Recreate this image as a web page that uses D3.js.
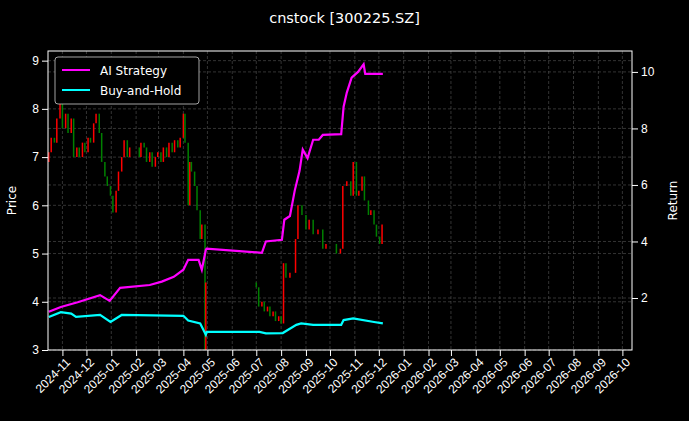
<!DOCTYPE html>
<html><head><meta charset="utf-8">
<script src="https://cdn.jsdelivr.net/npm/d3@7"></script>
<style>body{margin:0;background:#000}svg{font-family:"DejaVu Sans",sans-serif}</style>
</head><body><svg id="chart"></svg>
<script>
// price closes (candles: open = previous close)
var priceDates = ["2024-10-15","2024-10-18","2024-10-22","2024-10-25","2024-10-29","2024-11-01","2024-11-05","2024-11-08","2024-11-12","2024-11-15","2024-11-19","2024-11-22","2024-11-26","2024-11-29","2024-12-03","2024-12-06","2024-12-10","2024-12-13","2024-12-17","2024-12-20","2024-12-24","2024-12-27","2024-12-31","2025-01-03","2025-01-07","2025-01-10","2025-01-14","2025-01-17","2025-01-21","2025-01-24","2025-02-05","2025-02-07","2025-02-11","2025-02-14","2025-02-18","2025-02-21","2025-02-25","2025-02-28","2025-03-04","2025-03-07","2025-03-11","2025-03-14","2025-03-18","2025-03-21","2025-03-25","2025-03-28","2025-04-01","2025-04-03","2025-04-07","2025-04-09","2025-04-11","2025-04-15","2025-04-18","2025-04-22","2025-04-24","2025-04-28","2025-04-29","2025-07-01","2025-07-04","2025-07-08","2025-07-11","2025-07-15","2025-07-18","2025-07-22","2025-07-25","2025-07-29","2025-08-01","2025-08-04","2025-08-07","2025-08-12","2025-08-19","2025-08-22","2025-08-27","2025-09-01","2025-09-05","2025-09-10","2025-09-16","2025-09-22","2025-09-26","2025-10-09","2025-10-14","2025-10-17","2025-10-22","2025-10-27","2025-10-30","2025-11-03","2025-11-06","2025-11-10","2025-11-13","2025-11-18","2025-11-21","2025-11-25","2025-11-28","2025-12-02","2025-12-05"];
var priceClose = [7.1,7.4,7.3,7.8,8.1,7.6,7.9,7.5,7.8,7.0,7.2,7.0,7.3,7.1,7.4,7.3,7.7,7.9,7.5,6.9,6.6,6.4,6.2,5.85,6.3,6.7,7.0,7.35,7.0,7.2,7.0,7.3,7.2,6.9,7.1,6.8,7.0,7.1,6.9,7.2,7.0,7.3,7.1,7.35,7.2,7.4,7.9,7.3,6.0,6.9,6.7,6.4,5.9,5.3,5.6,2.9,4.4,4.3,3.9,4.0,3.8,3.9,3.7,3.8,3.6,3.7,3.55,4.8,4.5,4.6,5.3,6.0,5.8,5.5,5.7,5.4,5.5,5.1,5.2,5.0,5.1,6.4,6.5,6.2,6.9,6.2,6.3,6.6,6.1,5.8,5.9,5.6,5.35,5.2,5.6];

var aiDates = ["2024-10-15","2024-10-30","2024-11-20","2024-12-18","2024-12-30","2025-01-12","2025-02-18","2025-03-05","2025-03-20","2025-04-01","2025-04-07","2025-04-20","2025-04-24","2025-04-29","2025-04-30","2025-07-08","2025-07-13","2025-08-02","2025-08-05","2025-08-12","2025-08-18","2025-08-24","2025-08-28","2025-09-03","2025-09-10","2025-09-17","2025-09-22","2025-10-15","2025-10-18","2025-10-22","2025-10-28","2025-11-05","2025-11-12","2025-11-14","2025-12-06"];
var aiReturn = [1.51,1.68,1.85,2.1,1.9,2.36,2.46,2.58,2.75,3.0,3.35,3.35,3.0,3.7,3.75,3.6,4.0,4.06,4.77,4.9,5.8,6.5,7.25,6.95,7.6,7.6,7.77,7.8,8.77,9.27,9.8,10.0,10.27,9.93,9.93];

var bhDates = ["2024-10-15","2024-10-30","2024-11-12","2024-11-18","2024-12-18","2024-12-31","2025-01-14","2025-04-01","2025-04-07","2025-04-22","2025-04-29","2025-04-30","2025-07-05","2025-07-13","2025-08-03","2025-08-20","2025-08-26","2025-09-10","2025-10-15","2025-10-18","2025-10-30","2025-11-25","2025-12-06"];
var bhReturn = [1.33,1.5,1.45,1.33,1.4,1.15,1.4,1.37,1.2,1.1,0.7,0.8,0.8,0.75,0.76,1.05,1.1,1.05,1.05,1.22,1.28,1.15,1.1];

var priceTicks = [3,4,5,6,7,8,9];
var returnTicks = [2,4,6,8,10];

var parse = d3.timeParse("%Y-%m-%d");
var svgWidth = 689, svgHeight = 421;
var margin = {top: 51, right: 57, bottom: 71, left: 48};
var width = svgWidth - margin.left - margin.right;
var height = svgHeight - margin.top - margin.bottom;

var svg = d3.select("#chart").attr("width", svgWidth).attr("height", svgHeight);
svg.append("rect").attr("width", svgWidth).attr("height", svgHeight).attr("fill", "#000");

var g = svg.append("g").attr("transform", "translate(" + margin.left + "," + margin.top + ")");

var x = d3.scaleTime().domain([parse("2024-10-14"), parse("2026-10-13")]).range([0, width]);
var y = d3.scaleLinear().domain([3, 9.2]).range([height, 0]);
var y2 = d3.scaleLinear().domain([0.16, 10.74]).range([height, 0]);
var monthTicks = d3.timeMonth.range(parse("2024-11-01"), parse("2026-10-02"));

// grid
g.selectAll(".vg").data(monthTicks).enter().append("line")
    .attr("x1", function(d) { return x(d); }).attr("x2", function(d) { return x(d); })
    .attr("y1", 0).attr("y2", height);
g.selectAll(".hg").data(priceTicks).enter().append("line")
    .attr("x1", 0).attr("x2", width)
    .attr("y1", function(d) { return y(d); }).attr("y2", function(d) { return y(d); });
g.selectAll(".hg2").data(returnTicks).enter().append("line")
    .attr("x1", 0).attr("x2", width)
    .attr("y1", function(d) { return y2(d); }).attr("y2", function(d) { return y2(d); });
g.selectAll("line").attr("stroke", "#555").attr("stroke-width", 0.6).attr("stroke-dasharray", "3,2");

// candles
g.append("clipPath").attr("id", "clip").append("rect").attr("width", width).attr("height", height);
var candles = g.append("g").attr("clip-path", "url(#clip)");
candles.selectAll("line").data(priceClose).enter().append("line")
    .attr("x1", function(d, i) { return x(parse(priceDates[i])); })
    .attr("x2", function(d, i) { return x(parse(priceDates[i])); })
    .attr("y1", function(d, i) { return y(i > 0 ? priceClose[i - 1] : d - 0.2); })
    .attr("y2", function(d) { return y(d); })
    .attr("stroke", function(d, i) { return (i > 0 && d < priceClose[i - 1]) ? "#008000" : "#ff0000"; })
    .attr("stroke-width", 1.5);

var line = d3.line()
    .x(function(d) { return x(parse(d[0])); })
    .y(function(d) { return y2(d[1]); });

g.append("path").datum(d3.zip(aiDates, aiReturn))
    .attr("fill", "none").attr("stroke", "#ff00ff").attr("stroke-width", 2.2).attr("d", line);
g.append("path").datum(d3.zip(bhDates, bhReturn))
    .attr("fill", "none").attr("stroke", "#00ffff").attr("stroke-width", 2.2).attr("d", line);

// axes
var xAxis = g.append("g").attr("transform", "translate(0," + height + ")")
    .call(d3.axisBottom(x).tickValues(monthTicks).tickFormat(d3.timeFormat("%Y-%m")).tickSizeOuter(0));
xAxis.selectAll("text").attr("transform", "rotate(-45)").attr("text-anchor", "end")
    .attr("dx", "-0.3em").attr("dy", "0.5em");
var yAxis = g.append("g").call(d3.axisLeft(y).tickValues(priceTicks).tickFormat(d3.format("d")).tickSizeOuter(0));
var yAxis2 = g.append("g").attr("transform", "translate(" + width + ",0)")
    .call(d3.axisRight(y2).tickValues(returnTicks).tickSizeOuter(0));
g.append("rect").attr("width", width).attr("height", height).attr("fill", "none").attr("stroke", "#fff");
[xAxis, yAxis, yAxis2].forEach(function(a) {
    a.select(".domain").remove();
    a.selectAll("line").attr("stroke", "#fff");
    a.selectAll("text").attr("fill", "#fff").attr("font-size", 12);
});

svg.append("text").attr("x", 16).attr("y", margin.top + height / 2).attr("fill", "#fff")
    .attr("font-size", 12).attr("text-anchor", "middle")
    .attr("transform", "rotate(-90,16," + (margin.top + height / 2) + ")").text("Price");
svg.append("text").attr("x", 677).attr("y", margin.top + height / 2).attr("fill", "#fff")
    .attr("font-size", 12).attr("text-anchor", "middle")
    .attr("transform", "rotate(-90,677," + (margin.top + height / 2) + ")").text("Return");
svg.append("text").attr("x", svgWidth / 2).attr("y", 23).attr("fill", "#fff")
    .attr("font-size", 14.5).attr("text-anchor", "middle").text("cnstock [300225.SZ]");

// legend
var leg = svg.append("g").attr("transform", "translate(55,57)");
leg.append("rect").attr("width", 144).attr("height", 47).attr("rx", 3)
    .attr("fill", "#000").attr("stroke", "#ccc").attr("stroke-width", 0.8);
var items = [["AI Strategy", "#ff00ff"], ["Buy-and-Hold", "#00ffff"]];
items.forEach(function(it, i) {
    leg.append("line").attr("x1", 7).attr("x2", 35).attr("y1", 13 + i * 20).attr("y2", 13 + i * 20)
        .attr("stroke", it[1]).attr("stroke-width", 2);
    leg.append("text").attr("x", 45).attr("y", 17.5 + i * 20).attr("fill", "#fff")
        .attr("font-size", 12).text(it[0]);
});
</script></body></html>
